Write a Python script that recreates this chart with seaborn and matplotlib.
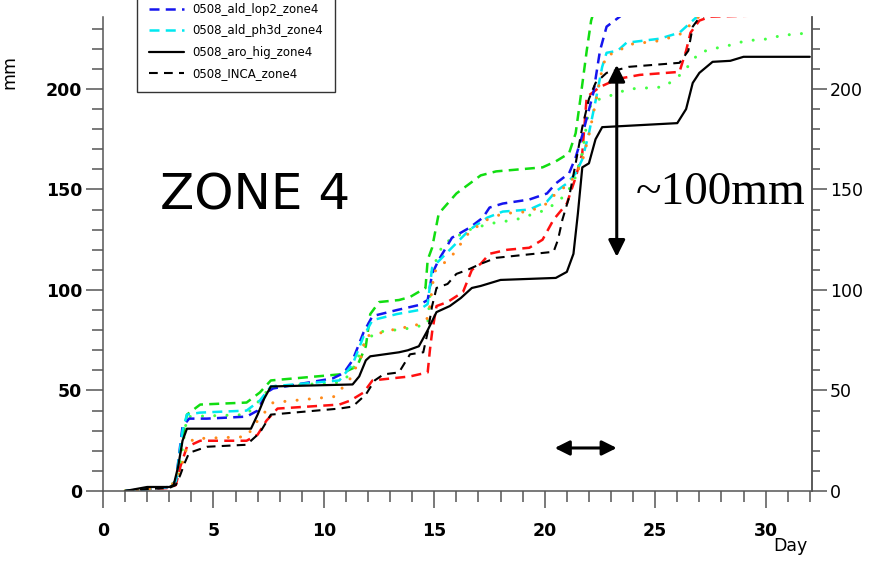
#!/usr/bin/env python3
import matplotlib
matplotlib.use("Agg")
import matplotlib.pyplot as plt
from matplotlib.ticker import MultipleLocator
import pandas as pd
import seaborn as sns

# cumulative precipitation (mm) per run
green_dash_day = [1, 2, 3, 3.3, 3.5, 3.8, 4.4, 6.5, 7.1, 7.6, 10.7, 11.5, 11.9, 12.1, 12.5, 13.4,
                  13.9, 14.6, 14.7, 14.9, 15.2, 16.0, 17.1, 17.8, 19.9, 20.5, 21.1, 21.4, 21.6,
                  21.9, 22.1, 22.4]
green_dash_mm = [0, 1, 2, 5, 20, 38, 43, 44, 49, 55, 58, 62, 72, 88, 94, 95,
                 96.5, 101, 115, 121, 138, 148, 157, 159, 161, 164, 168, 178, 194,
                 219, 234, 245]

red_dash_day = [1, 2, 3, 3.3, 3.5, 3.8, 4.4, 6.5, 7.0, 7.4, 7.9, 10.7, 11.2, 11.8, 12.2, 13.9,
                14.7, 14.8, 14.9, 15.1, 15.6, 16.3, 16.7, 17.1, 17.5, 18.3, 19.3, 19.9, 20.4,
                21.0, 21.4, 21.7, 21.9, 22.5, 23.3, 24.3, 26.1, 26.4, 26.6, 27.0, 27.5, 29.5, 32]
red_dash_mm = [0, 1, 1.5, 3, 12, 22, 25, 25, 28, 35, 41, 43, 45, 49, 55, 57,
               59, 70, 79, 92, 94, 99, 110, 113, 118, 120, 121, 125, 135,
               143, 156, 168, 196, 201, 205, 207, 208.5, 219, 228, 234, 236, 236.5, 240]

orange_dot_day = [1, 2, 3, 3.4, 3.8, 4.1, 6.5, 7.0, 7.7, 10.5, 11.2, 11.7, 11.9, 12.7, 13.4,
                  14.1, 14.7, 14.8, 15.0, 15.8, 16.6, 17.4, 18.1, 19.3, 20.1, 20.5, 21.0, 21.4,
                  21.7, 22.0, 22.3, 22.6, 22.8, 23.3, 23.7, 25.2, 26.1, 26.5, 26.9, 27.3]
orange_dot_mm = [0, 1, 2, 6, 22, 26, 27, 35, 44, 47, 56, 67, 77, 79, 81,
                 82, 86, 92, 109, 117, 129, 135, 138, 139, 143, 148, 152, 157,
                 164, 177, 193, 210, 217, 218, 222, 224, 227, 231, 235, 240]

lime_dot_day = [1, 2, 3, 3.4, 3.8, 6.5, 7.0, 7.6, 10.7, 11.2, 11.9, 12.4, 13.9, 14.7, 14.9,
                15.4, 16.6, 17.5, 18.7, 20.1, 20.8, 21.3, 21.7, 22.0, 22.2, 22.8, 23.8, 25.4,
                25.9, 26.3, 26.6, 27.0, 27.6, 28.1, 28.6, 29.1, 29.6, 30.2, 30.8, 31.3, 31.9, 32]
lime_dot_mm = [0, 1, 2, 6, 37, 38, 44, 52, 54, 58, 75, 79, 81, 83, 110,
               123, 130, 133, 135, 140, 146, 153, 168, 190, 194, 196, 200, 201,
               205, 208.5, 213, 218, 220, 221, 222.4, 224, 224.4, 225, 227, 227, 228, 228]

blue_dash_day = [1, 2, 3, 3.3, 3.6, 3.9, 4.7, 6.5, 7.0, 7.4, 7.7, 10.4, 10.9, 11.3, 11.8, 12.2,
                 13.3, 14.3, 14.7, 14.9, 15.2, 15.8, 16.6, 17.2, 17.5, 18.1, 19.3, 20.1, 20.5,
                 21.1, 21.4, 21.7, 22.2, 22.5, 22.8, 23.4, 24]
blue_dash_mm = [0, 1, 2, 5, 32, 36, 36, 37, 40, 49, 51, 56, 58.7, 65, 79, 87,
                90, 92.5, 95, 108, 115, 126, 131, 136, 141, 143, 145, 148, 153,
                158, 166, 177, 198, 219, 231, 236, 242]

cyan_dash_day = [1, 2, 3, 3.3, 3.6, 3.8, 4.4, 6.5, 7.1, 7.6, 10.7, 11.3, 11.8, 12.2, 13.3,
                 14.3, 14.7, 14.9, 15.7, 16.6, 17.4, 18.1, 19.3, 20.1, 20.5, 21.0, 21.4, 21.7,
                 22.0, 22.3, 22.6, 22.8, 23.3, 23.7, 25.2, 26.1, 26.5, 26.9, 27.3]
cyan_dash_mm = [0, 1, 2, 5, 30, 38, 39, 40, 45, 52, 55, 63, 77, 85, 88,
                90, 93, 111, 120, 130, 136, 139, 140, 144, 149, 153, 158, 165,
                178, 194, 211, 218, 219, 223, 225, 228, 232, 236, 240]

black_day = [1, 1.5, 2, 3, 3.2, 3.4, 3.6, 3.8, 6.7, 7.0, 7.3, 7.6, 11.3, 11.6, 11.9, 12.1,
             13.4, 13.8, 14.3, 14.7, 15.1, 15.7, 16.2, 16.7, 17.1, 18.0, 20.5, 21.0, 21.3,
             21.5, 21.7, 22.0, 22.3, 22.6, 26.0, 26.4, 26.7, 27.0, 27.6, 28.4, 29.0, 32]
black_mm = [0, 1, 2, 2, 3, 12, 25, 31, 31, 38, 46, 52, 53, 57, 65, 67,
            69, 70, 72, 80, 89, 92, 96, 101, 102, 105, 106, 109, 118,
            138, 161, 163, 175, 181, 183, 190, 203, 208, 213.5, 214, 216, 216]

inca_day = [1, 2, 3, 3.3, 3.5, 3.7, 3.9, 4.7, 6.5, 7.1, 7.6, 10.7, 11.3, 11.9, 12.3, 12.7,
            13.4, 13.9, 14.5, 14.7, 14.9, 15.1, 15.6, 16.0, 16.5, 17.1, 17.8, 20.4, 20.6,
            20.8, 21.1, 21.4, 21.7, 22.0, 22.3, 22.8, 23.8, 26.1, 26.5, 26.7, 26.9, 27.3, 32]
inca_mm = [0, 1, 1.5, 3, 8, 14, 19, 22, 23, 29, 38, 41, 42, 48, 55, 58,
           59, 68, 69, 79, 92, 101, 103, 108, 110, 113, 116, 119, 125,
           135, 146, 163, 181, 195, 203, 208, 211, 213, 219, 231, 234, 237, 240]

legend_labels = ["0508_ald_lop2_zone4", "0508_ald_ph3d_zone4",
                 "0508_aro_hig_zone4", "0508_INCA_zone4"]

sns.set_style("ticks")
plt.rcParams["font.family"] = ["DejaVu Sans"]
plt.rcParams["text.color"] = "black"
plt.rcParams["axes.labelcolor"] = "black"
plt.rcParams["xtick.labelcolor"] = "black"
plt.rcParams["ytick.labelcolor"] = "black"

fig = plt.figure(figsize=(8.83, 5.62), dpi=100)
ax = fig.add_axes([103 / 883, 1 - 491 / 562, 709 / 883, 474 / 562])

dash_long = (0, (4, 2.5))
runs = [
    (green_dash_day, green_dash_mm, "#11dd11", 1.8, dash_long, "butt"),
    (red_dash_day, red_dash_mm, "#ff1010", 1.8, dash_long, "butt"),
    (lime_dot_day, lime_dot_mm, "#44ff44", 2.2, (0, (0.01, 4)), "round"),
    (blue_dash_day, blue_dash_mm, "#1515ee", 1.8, dash_long, "butt"),
    (cyan_dash_day, cyan_dash_mm, "#00e8f0", 1.8, dash_long, "butt"),
    (orange_dot_day, orange_dot_mm, "#ff8a1a", 2.2, (0, (0.01, 4)), "round"),
    (black_day, black_mm, "black", 1.6, "-", "butt"),
    (inca_day, inca_mm, "black", 1.5, (0, (4.2, 3)), "butt"),
]
lines = []
for day, mm, color, lw, ls, cap in runs:
    df = pd.DataFrame({"day": day, "mm": mm})
    sns.lineplot(data=df, x="day", y="mm", ax=ax, color=color, linewidth=lw,
                 linestyle=ls, estimator=None, sort=False, legend=False)
    ln = ax.lines[-1]
    ln.set_dash_capstyle(cap)
    lines.append(ln)

ax.set_xlim(0, 32.1)
ax.set_ylim(0, 235.8)
ax.xaxis.set_major_locator(MultipleLocator(5))
ax.xaxis.set_minor_locator(MultipleLocator(1))
ax.yaxis.set_major_locator(MultipleLocator(50))
ax.yaxis.set_minor_locator(MultipleLocator(10))
ax.spines["top"].set_visible(False)
for s in ["left", "bottom", "right"]:
    ax.spines[s].set_color("#555555")
    ax.spines[s].set_linewidth(1.1)
ax.tick_params(which="major", direction="out", length=12, width=1.1, color="#555555")
ax.tick_params(which="minor", direction="out", length=8, width=1.1, color="#555555")
ax.tick_params(axis="x", which="major", pad=10, labelsize=12.5)
ax.tick_params(axis="y", which="major", pad=3, labelsize=12.5)
for lab in ax.get_xticklabels() + ax.get_yticklabels():
    lab.set_fontweight("bold")

ax2 = ax.twinx()
ax2.set_ylim(ax.get_ylim())
ax2.yaxis.set_major_locator(MultipleLocator(50))
ax2.yaxis.set_minor_locator(MultipleLocator(10))
for s in ["top", "left", "bottom"]:
    ax2.spines[s].set_visible(False)
ax2.spines["right"].set_color("#555555")
ax2.spines["right"].set_linewidth(1.1)
ax2.tick_params(which="major", direction="out", length=11, width=1.1, color="#555555",
                pad=2, labelsize=12.5)
ax2.tick_params(which="minor", direction="out", length=6, width=1.1, color="#555555")

ax.set_xlabel("Day", fontsize=12.5)
ax.xaxis.set_label_coords(0.97, -0.098)
ax.set_ylabel("mm", fontsize=12.5)
ax.yaxis.set_label_coords(-0.12, 0.884)

leg_handles = [lines[3], lines[4], lines[6], lines[7]]
leg = fig.legend(handles=leg_handles, labels=legend_labels,
                 loc="lower left", bbox_to_anchor=(137 / 883, 1 - 92 / 562),
                 fontsize=8.5, frameon=True, fancybox=False, framealpha=1,
                 edgecolor="#333333", handlelength=3.0, handletextpad=0.7,
                 labelspacing=0.72, borderpad=1.0, borderaxespad=0)
leg.get_frame().set_linewidth(1.0)

ax.text(2.58, 140, "ZONE 4", fontsize=36, va="baseline", ha="left", color="black")
ax.text(24.1, 143, "~100mm", fontsize=34, va="baseline", ha="left", color="black",
        family=["Liberation Serif", "DejaVu Serif"])
ax.annotate("", xy=(23.26, 212), xytext=(23.26, 116.5),
            arrowprops=dict(arrowstyle="<|-|>", color="black", lw=2.2, mutation_scale=25,
                            shrinkA=0, shrinkB=0))
ax.annotate("", xy=(23.26, 21.4), xytext=(20.45, 21.4),
            arrowprops=dict(arrowstyle="<|-|>", color="black", lw=2.2, mutation_scale=22,
                            shrinkA=0, shrinkB=0))

fig.savefig("out.png", dpi=100)
